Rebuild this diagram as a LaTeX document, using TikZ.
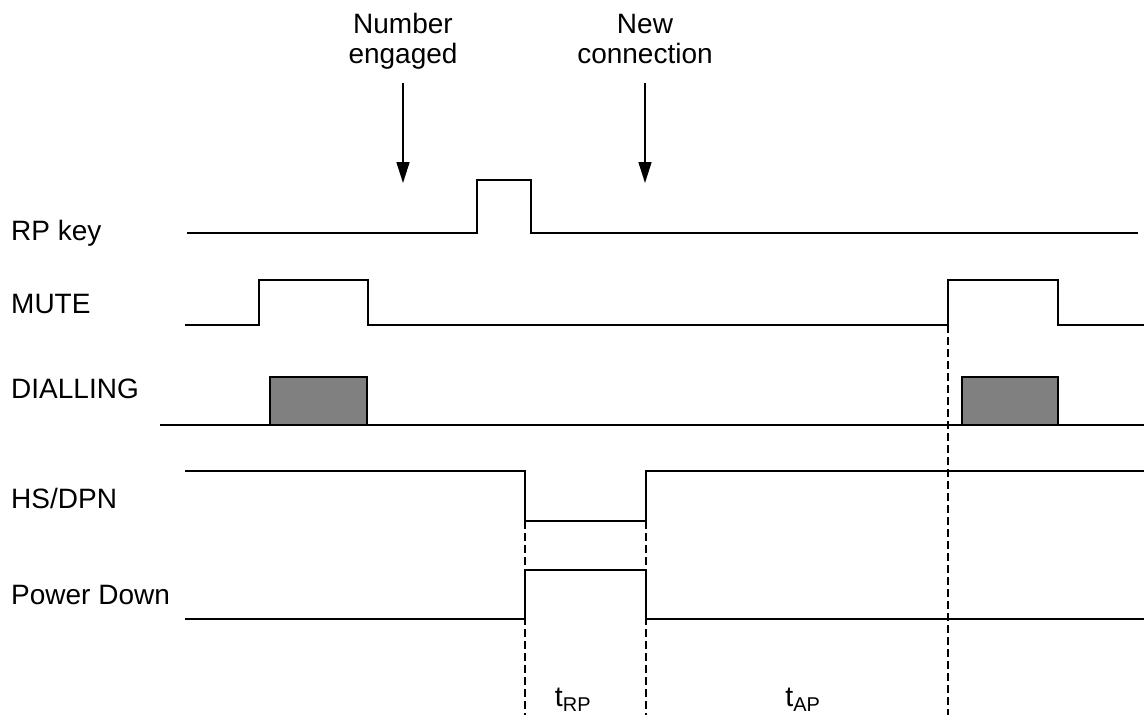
\documentclass[tikz,border=0pt]{standalone}
\usepackage{fontspec}
\setmainfont{Liberation Sans}
\usetikzlibrary{arrows.meta}
\begin{document}
\begin{tikzpicture}[x=1pt,y=-1pt,
  sig/.style={line width=1.6pt,line join=miter},
  guide/.style={line width=1.1pt,dash pattern=on 8pt off 4pt},
  lbl/.style={anchor=base west,inner sep=0pt,font=\fontsize{28}{30}\selectfont},
  ann/.style={align=center,anchor=base,inner sep=0pt,font=\fontsize{28}{30}\selectfont},
  tlbl/.style={anchor=base,inner sep=0pt,font=\fontsize{28.5}{30}\selectfont},
  evarrow/.style={line width=1.6pt,-{Triangle[width=13pt,length=21pt]}},
  dial/.style={line width=1.6pt,fill=black!50}]
\useasboundingbox (0,0) rectangle (1144,715);
% annotations
\node[ann] (ne) at (403,63) {Number\\engaged};
\node[ann] (nc) at (645,63) {New\\connection};
\coordinate (ne1) at (403,83); \coordinate (ne2) at (403,183);
\coordinate (nc1) at (645,83); \coordinate (nc2) at (645,183);
\draw[evarrow] (ne1) -- (ne2);
\draw[evarrow] (nc1) -- (nc2);
% labels
\node[lbl] (rp) at (11,240) {RP key};
\node[lbl] (mute) at (11,313) {MUTE};
\node[lbl] (dl) at (11,398) {DIALLING};
\node[lbl] (hs) at (11,508) {HS/DPN};
\node[lbl] (pd) at (11,604) {Power Down};
% dashed guides
\draw[guide] (525,521) -- (525,715);
\draw[guide] (646,521) -- (646,715);
\draw[guide] (948,325) -- (948,715);
% RP key
\draw[sig] (187,233) -- (477,233) -- (477,180) -- (531,180) -- (531,233) -- (1138,233);
% MUTE
\draw[sig] (185,325) -- (259,325) -- (259,280) -- (368,280) -- (368,325) -- (948,325) -- (948,280) -- (1058,280) -- (1058,325) -- (1144,325);
% DIALLING
\draw[sig] (160,425) -- (1144,425);
\draw[dial] (270,425) rectangle (367,377);
\draw[dial] (962,425) rectangle (1058,377);
% HS/DPN
\draw[sig] (185,471) -- (525,471) -- (525,521) -- (646,521) -- (646,471) -- (1144,471);
% Power Down
\draw[sig] (185,619) -- (525,619) -- (525,570) -- (646,570) -- (646,619) -- (1144,619);
% time labels
\node[tlbl] (trp) at (573,706) {t\textsubscript{RP}};
\node[tlbl] (tap) at (803,706) {t\textsubscript{AP}};
\end{tikzpicture}
\end{document}
